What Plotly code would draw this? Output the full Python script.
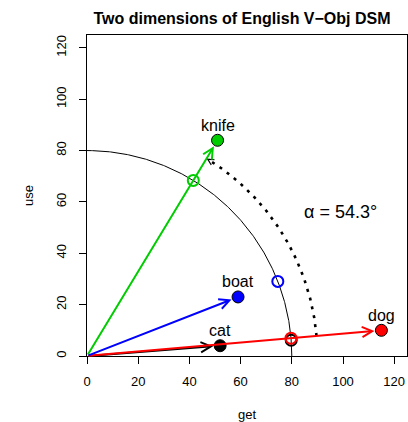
import numpy as np
import plotly.graph_objects as go

# ---- data ----
words = ["knife", "cat", "dog", "boat"]
get_vals = [51, 52, 115, 59]
use_vals = [84, 4, 10, 23]
word_colors = ["#00CD00", "black", "red", "blue"]
alpha_label = "α = 54.3°"
x_ticks = [0, 20, 40, 60, 80, 100, 120]
y_ticks = [0, 20, 40, 60, 80, 100, 120]
RADIUS = 80
ANGLE_RADIUS = 90
alpha_pos = (99, 56)

FONT = "Liberation Sans, Arial, Helvetica, sans-serif"

fig = go.Figure()

# quarter circle of radius 80
theta = np.linspace(0, np.pi / 2, 300)
fig.add_trace(go.Scatter(x=RADIUS * np.cos(theta), y=RADIUS * np.sin(theta),
                         mode="lines", line=dict(color="black", width=1),
                         hoverinfo="skip"))

# dotted angle arc between dog and knife
a_dog = np.arctan2(use_vals[2], get_vals[2])
a_knife = np.arctan2(use_vals[0], get_vals[0])
phi = np.linspace(a_dog, a_knife, 200)
fig.add_trace(go.Scatter(x=ANGLE_RADIUS * np.cos(phi), y=ANGLE_RADIUS * np.sin(phi),
                         mode="lines", line=dict(color="black", width=2.6, dash="3px,6px"),
                         hoverinfo="skip"))
fig.add_annotation(x=ANGLE_RADIUS * np.cos(a_knife), y=ANGLE_RADIUS * np.sin(a_knife),
                   ax=ANGLE_RADIUS * np.cos(a_knife - 0.02), ay=ANGLE_RADIUS * np.sin(a_knife - 0.02),
                   xref="x", yref="y", axref="x", ayref="y", text="",
                   showarrow=True, arrowhead=5, arrowsize=0.6, arrowwidth=2,
                   arrowcolor="black")

# normalised (hollow) points on the circle
for g, u, c in zip(get_vals, use_vals, word_colors):
    n = np.hypot(g, u)
    fig.add_trace(go.Scatter(x=[RADIUS * g / n], y=[RADIUS * u / n], mode="markers",
                             marker=dict(symbol="circle-open", size=11, color=c,
                                         line=dict(width=2, color=c)),
                             hoverinfo="skip"))

# arrows from origin
for g, u, c in zip(get_vals, use_vals, word_colors):
    fig.add_annotation(x=g, y=u, ax=0, ay=0, xref="x", yref="y", axref="x", ayref="y",
                       text="", showarrow=True, arrowhead=5, arrowsize=1,
                       arrowwidth=2, arrowcolor=c, standoff=7)

# filled points
for w, g, u, c in zip(words, get_vals, use_vals, word_colors):
    fig.add_trace(go.Scatter(x=[g], y=[u], mode="markers",
                             marker=dict(symbol="circle", size=12, color=c,
                                         line=dict(width=1, color="black")),
                             hoverinfo="skip"))
    fig.add_annotation(x=g, y=u, xref="x", yref="y", text=w, showarrow=False,
                       yshift=15, font=dict(size=16, color="black", family=FONT))

fig.add_annotation(x=alpha_pos[0], y=alpha_pos[1], xref="x", yref="y",
                   text=alpha_label, showarrow=False,
                   font=dict(size=18, color="black", family=FONT))

fig.update_layout(
    width=408, height=422,
    margin=dict(l=87, r=1, t=35, b=66),
    paper_bgcolor="white", plot_bgcolor="white",
    showlegend=False,
    font=dict(family=FONT, color="black", size=13),
    title=dict(text="<b>Two dimensions of English V\u2212Obj DSM</b>",
               x=242 / 408, xanchor="center", y=1 - 18 / 422, yanchor="middle",
               font=dict(size=16, family=FONT, color="black")),
    xaxis=dict(range=[0, 125], tickvals=x_ticks, ticktext=[str(t) for t in x_ticks],
               ticks="outside", ticklen=7, tickcolor="black", tickwidth=1,
               showgrid=False, zeroline=False, showline=True, linecolor="black",
               linewidth=1, mirror=True, ticklabelstandoff=6,
               title=dict(text="get", font=dict(size=13), standoff=22),
               tickfont=dict(size=13)),
    yaxis=dict(range=[0, 125], tickvals=y_ticks, ticktext=[str(t) for t in y_ticks],
               ticks="outside", ticklen=7, tickcolor="black", tickwidth=1,
               showgrid=False, zeroline=False, showline=True, linecolor="black",
               linewidth=1, mirror=True, tickangle=-90, ticklabelstandoff=8,
               title=dict(text="use", font=dict(size=13), standoff=17),
               tickfont=dict(size=13)),
)

fig.write_html("out.html", config={"displayModeBar": False},
               post_script="document.body.style.margin='0px';document.body.style.overflow='hidden';")
